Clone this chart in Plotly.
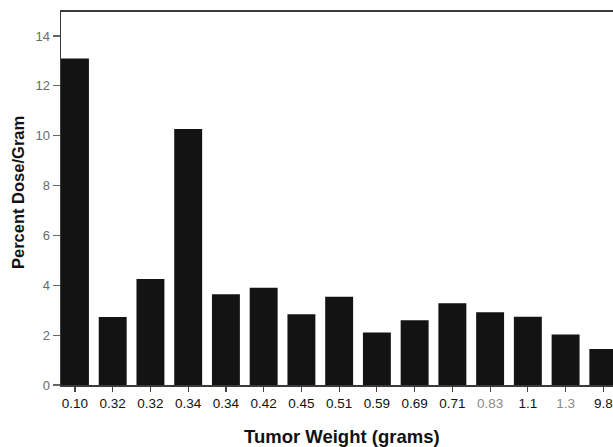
import plotly.graph_objects as go

tumor_weights = ["0.10", "0.32", "0.32", "0.34", "0.34", "0.42", "0.45", "0.51",
                 "0.59", "0.69", "0.71", "0.83", "1.1", "1.3", "9.8"]
percent_dose = [13.1, 2.73, 4.25, 10.27, 3.64, 3.9, 2.84, 3.54,
                2.11, 2.6, 3.28, 2.92, 2.74, 2.03, 1.44]
faded_labels = {"0.83", "1.3"}

positions = list(range(len(tumor_weights)))
tick_text = [
    f"<span style='color:#8a8a8a'>{t}</span>" if t in faded_labels else t
    for t in tumor_weights
]

fig = go.Figure(go.Bar(
    x=positions,
    y=percent_dose,
    width=0.74,
    marker=dict(color="#131313", line=dict(width=0)),
))

font_family = "Liberation Sans, Arial, sans-serif"

fig.update_layout(
    width=613, height=447,
    margin=dict(l=61, r=0, t=12, b=62),
    paper_bgcolor="white", plot_bgcolor="white",
    showlegend=False,
    font=dict(family=font_family, color="#222"),
    xaxis=dict(
        range=[-0.37, 14.256],
        tickmode="array", tickvals=positions, ticktext=tick_text,
        ticks="outside", ticklen=5, tickwidth=1.2, tickcolor="#444",
        tickfont=dict(size=13.5, color="#111"),
        showline=True, linecolor="#3a3a3a", linewidth=1.6, mirror=True,
        showgrid=False, zeroline=False, fixedrange=True,
    ),
    yaxis=dict(
        range=[0, 14.96],
        tickmode="array", tickvals=[0, 2, 4, 6, 8, 10, 12, 14],
        ticks="outside", ticklen=7, tickwidth=1.2, tickcolor="#666",
        tickfont=dict(size=13, color="#6a6a6a"),
        showline=True, linecolor="#3a3a3a", linewidth=1.5,
        showgrid=False, zeroline=False, fixedrange=True,
    ),
    annotations=[
        dict(text="<b>Tumor Weight (grams)</b>", xref="paper", yref="paper",
             x=(342 - 61) / 552, y=-(436 - 385) / 373, xanchor="center", yanchor="middle",
             showarrow=False, font=dict(size=18.5, color="#111", family=font_family)),
        dict(text="<b>Percent Dose/Gram</b>", xref="paper", yref="paper",
             x=(18 - 61) / 552, y=(385 - 193) / 373, xanchor="center", yanchor="middle",
             textangle=-90, showarrow=False,
             font=dict(size=16.5, color="#111", family=font_family)),
    ],
)

fig.write_html(
    "out.html",
    config={"displayModeBar": False, "staticPlot": True},
    post_script="document.body.style.margin='0';document.body.style.overflow='hidden';",
)
